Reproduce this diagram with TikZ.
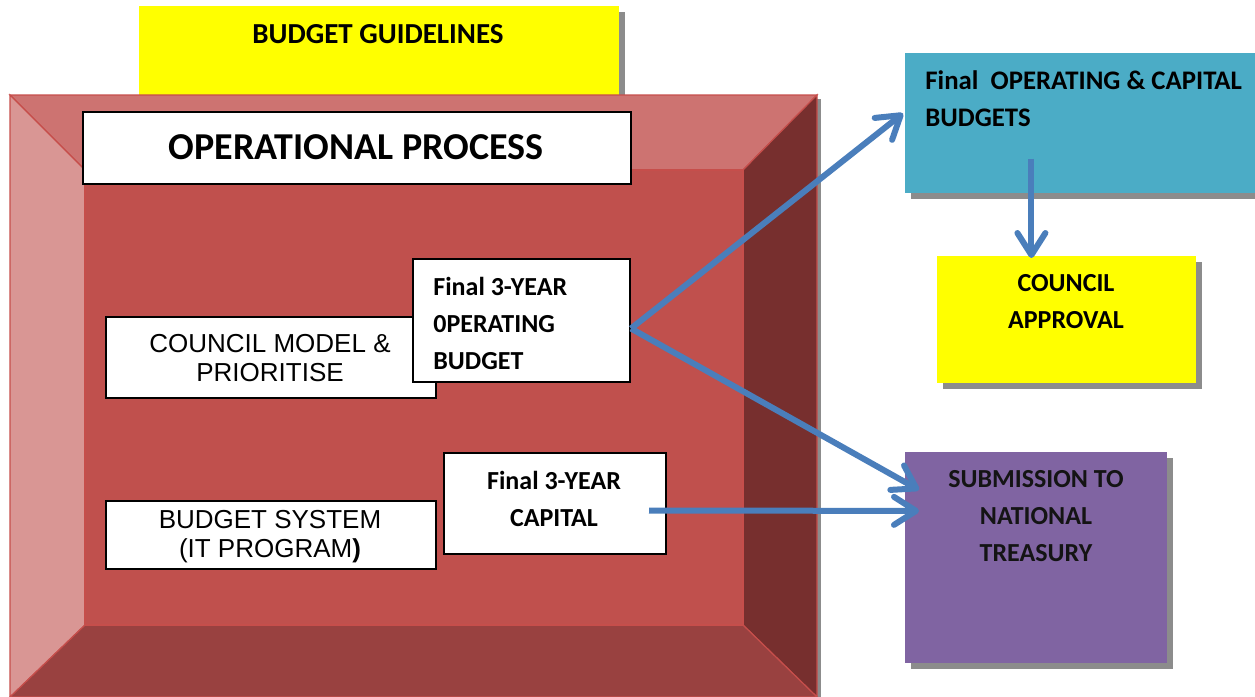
\documentclass[tikz,border=0pt]{standalone}
\usepackage{fontspec}
\setmainfont{Carlito}
\newfontfamily\arialfont{Liberation Sans}
\usetikzlibrary{arrows.meta,shadows}

\definecolor{guideyellow}{HTML}{FFFF00}
\definecolor{budgetcyan}{HTML}{4BACC6}
\definecolor{treasurypurple}{HTML}{8064A2}
\definecolor{flowblue}{HTML}{4A7EBB}
\definecolor{bevelmid}{HTML}{C0504D}
\definecolor{beveltop}{HTML}{CD7371}
\definecolor{bevelleft}{HTML}{D99694}
\definecolor{bevelright}{HTML}{772F2E}
\definecolor{bevelbottom}{HTML}{994140}
\definecolor{bevelline}{HTML}{C64E4B}

\tikzset{
  box/.style={anchor=north west,inner sep=0pt,fill=white,draw=black,line width=1pt},
  card/.style={anchor=north west,inner sep=0pt,
    drop shadow={shadow xshift=2.75pt,shadow yshift=-2.75pt,fill=black!45,opacity=1}},
  head/.style={inner sep=0pt,align=center,font=\bfseries\fontsize{13}{18.5}\selectfont},
  plain/.style={inner sep=0pt,align=center,font=\arialfont\fontsize{13}{14.5}\selectfont},
  flow/.style={draw=flowblue,line width=3pt,-{Straight Barb[length=11pt,width=14pt,round]}}
}

\begin{document}
\begin{tikzpicture}[x=0.5pt,y=-0.5pt]
  \useasboundingbox (0,0) rectangle (1255,697);

  % yellow card behind the frame
  \node[card,fill=guideyellow,minimum width=240pt,minimum height=50pt] (guide) at (139,6) {};
  \node[head,font=\bfseries\fontsize{14.5}{17}\selectfont] (guideTxt) at (378,34) {BUDGET GUIDELINES};

  % bevelled frame
  \def\face#1#2{
    \filldraw[fill=#1,draw=bevelline,line width=0.6pt] #2 -- cycle;
  }
  \fill[black!45] (14,99) rectangle (821,697);
  \face{beveltop}{(10,95) -- (817,95) -- (743,170) -- (85,170)}
  \face{bevelleft}{(10,95) -- (85,170) -- (85,625) -- (10,697)}
  \face{bevelright}{(817,95) -- (817,697) -- (743,625) -- (743,170)}
  \face{bevelbottom}{(10,697) -- (85,625) -- (743,625) -- (817,697)}
  \face{bevelmid}{(85,170) -- (743,170) -- (743,625) -- (85,625)}

  % boxes inside the frame
  \node[box,minimum width=274pt,minimum height=36pt] (oper) at (82,111) {};
  \node[head,font=\bfseries\fontsize{19}{22}\selectfont] (operTxt) at (356,147) {OPERATIONAL PROCESS};

  \node[box,line width=0.8pt,minimum width=165pt,minimum height=40.5pt] (model) at (105,316) {};
  \node[plain] (modelTxt) at (270,358) {COUNCIL MODEL \&\\PRIORITISE};

  \node[box,minimum width=108.5pt,minimum height=61.5pt] (opb) at (412,258) {};
  \node[head,align=left,anchor=west] (opbTxt) at (433,323) {Final 3-YEAR\\0PERATING\\BUDGET};

  \node[box,line width=0.8pt,minimum width=165pt,minimum height=34pt] (sys) at (105,500) {};
  \node[plain] (sysTxt) at (270,537) {BUDGET SYSTEM\\(IT PROGRAM\textbf{)}};

  \node[box,minimum width=111pt,minimum height=50.5pt] (cap) at (443,452) {};
  \node[head] (capTxt) at (554,498.5) {Final 3-YEAR\\CAPITAL};

  % outcome cards
  \node[card,fill=budgetcyan,minimum width=176pt,minimum height=70pt] (fin) at (905,53) {};
  \node[head,align=left,anchor=west,font=\bfseries\fontsize{13.4}{18.5}\selectfont] (finTxt) at (925,98.5) {Final\ \ OPERATING \& CAPITAL\\BUDGETS};

  \node[card,fill=guideyellow,minimum width=129.5pt,minimum height=63.5pt] (appr) at (937,256) {};
  \node[head] (apprTxt) at (1066,302) {COUNCIL\\APPROVAL};

  \node[card,fill=treasurypurple,minimum width=131pt,minimum height=105.5pt] (sub) at (905,452) {};
  \node[head,text=black!92] (subTxt) at (1036,516.5) {SUBMISSION TO\\NATIONAL\\TREASURY};

  % connectors
  \coordinate (fork) at ([yshift=-4pt]opb.east);
  \draw[flow] (fork) -- ([xshift=-1pt,yshift=5pt]fin.west);
  \draw[flow] (fork) -- ([xshift=7pt,yshift=34pt]sub.west);
  \draw[flow] ([xshift=-9pt,yshift=-3.5pt]cap.east) -- ([xshift=7pt,yshift=23.5pt]sub.west);
  \draw[flow] ([xshift=-25pt,yshift=17.5pt]fin.south) -- ([xshift=-17.75pt,yshift=-1pt]appr.north);
\end{tikzpicture}
\end{document}
